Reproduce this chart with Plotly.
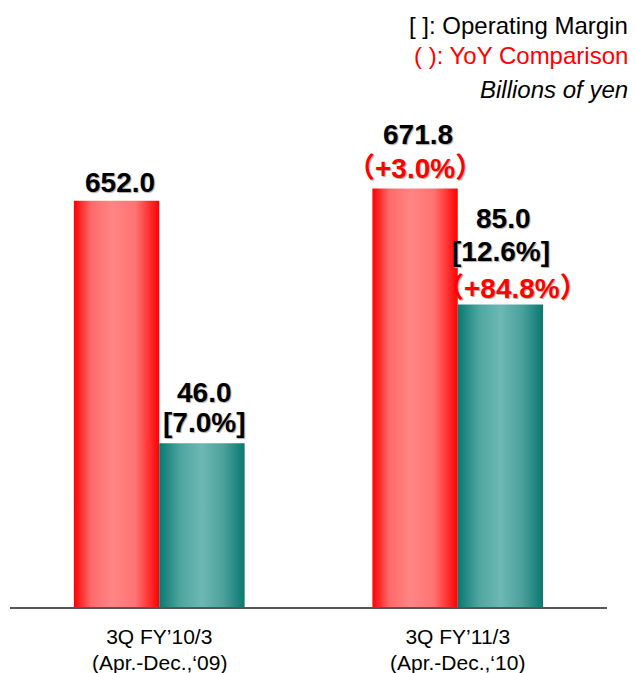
import plotly.graph_objects as go

# 3Q cumulative results, billions of yen
periods = ["3Q FY’10/3", "3Q FY’11/3"]
period_spans = ["(Apr.-Dec.,‘09)", "(Apr.-Dec.,‘10)"]
net_sales = [652.0, 671.8]
op_income = [46.0, 85.0]
op_margin = [7.0, 12.6]
sales_yoy = [None, 3.0]
income_yoy = [None, 84.8]

BAR_W = 0.286
FONT = "Liberation Sans, Arial, Noto Sans CJK JP, sans-serif"
RED_SCALE = [[0, '#ff0000'], [0.2, '#ff6a6a'], [0.45, '#ff8585'],
             [0.72, '#ff7373'], [1, '#ff0000']]
TEAL_SCALE = [[0, '#097870'], [0.25, '#4ea6a1'], [0.5, '#6cb8b4'],
              [0.75, '#4ca19c'], [1, '#097870']]

fig = go.Figure()


def add_bar(x0, value, scale, yaxis):
    '''one bar as a filled box so it can carry a horizontal gradient'''
    fig.add_trace(go.Scatter(
        x=[x0, x0 + BAR_W, x0 + BAR_W, x0, x0],
        y=[0, 0, value, value, 0],
        fill='toself', mode='lines', line=dict(width=0, color='rgba(0,0,0,0)'),
        fillgradient=dict(type='horizontal', colorscale=scale),
        yaxis=yaxis, hoverinfo='skip', showlegend=False))


for i in range(len(periods)):
    add_bar(i - BAR_W, net_sales[i], RED_SCALE, 'y')
    add_bar(i, op_income[i], TEAL_SCALE, 'y2')

annotations = []


def label(x, y, yref, text, yshift, color='black', xshift=0):
    annotations.append(dict(
        x=x, y=y, xref='x', yref=yref, text=f'<b>{text}</b>',
        showarrow=False, xanchor='center', yanchor='middle',
        yshift=yshift, xshift=xshift,
        font=dict(family=FONT, size=28, color=color, shadow='1px 1px 1px #aaa')))


for i in range(len(periods)):
    xr = i - BAR_W / 2
    xt = i + BAR_W / 2
    if sales_yoy[i] is None:
        label(xr, net_sales[i], 'y', f'{net_sales[i]:.1f}', 18, xshift=3)
    else:
        label(xr, net_sales[i], 'y', f'{net_sales[i]:.1f}', 54, xshift=3)
        label(xr, net_sales[i], 'y', f'（+{sales_yoy[i]:.1f}%）', 20, color='#ff0000')
    if income_yoy[i] is None:
        label(xt, op_income[i], 'y2', f'{op_income[i]:.1f}', 51, xshift=3)
        label(xt, op_income[i], 'y2', f'[{op_margin[i]:.1f}%]', 21, xshift=2)
    else:
        label(xt, op_income[i], 'y2', f'{op_income[i]:.1f}', 86, xshift=3)
        label(xt, op_income[i], 'y2', f'[{op_margin[i]:.1f}%]', 53, xshift=1)
        label(xt, op_income[i], 'y2', f'（+{income_yoy[i]:.1f}%）', 16,
              color='#ff0000', xshift=12)

    # second line of the category label, set tighter than a <br> would
    annotations.append(dict(
        x=i, y=0, xref='x', yref='paper', text=period_spans[i],
        showarrow=False, xanchor='center', yanchor='middle', yshift=-55,
        font=dict(family=FONT, size=21, color='black')))

# notes in the top right corner
notes = [("[ ]: Operating Margin", 'black', 'normal', 1.026),
         ("( ): YoY Comparison", '#ff0000', 'normal', 0.9735),
         ("Billions of yen", 'black', 'italic', 0.912)]
for text, color, style, y in notes:
    annotations.append(dict(
        x=1.0385, y=y, xref='paper', yref='paper', text=text,
        showarrow=False, xanchor='right', yanchor='middle',
        font=dict(family=FONT, size=24, color=color, style=style)))

fig.update_layout(
    width=635, height=673,
    margin=dict(l=10, r=28, t=40, b=66),
    plot_bgcolor='white', paper_bgcolor='white',
    showlegend=False,
    annotations=annotations,
    xaxis=dict(
        range=[-0.5, 1.5], tickvals=list(range(len(periods))),
        ticktext=periods,
        tickfont=dict(family=FONT, size=21, color='black'),
        ticklabelstandoff=10, automargin=False,
        showline=True, linecolor='#555555', linewidth=2,
        showgrid=False, zeroline=False, ticks=''),
    yaxis=dict(range=[0, 910], visible=False, automargin=False),
    yaxis2=dict(range=[0, 159.3], overlaying='y', visible=False))

# drop the default body margin so the figure fills the window exactly
fig.write_html("out.html", post_script="document.body.style.margin='0';",
               config={'displayModeBar': False})
